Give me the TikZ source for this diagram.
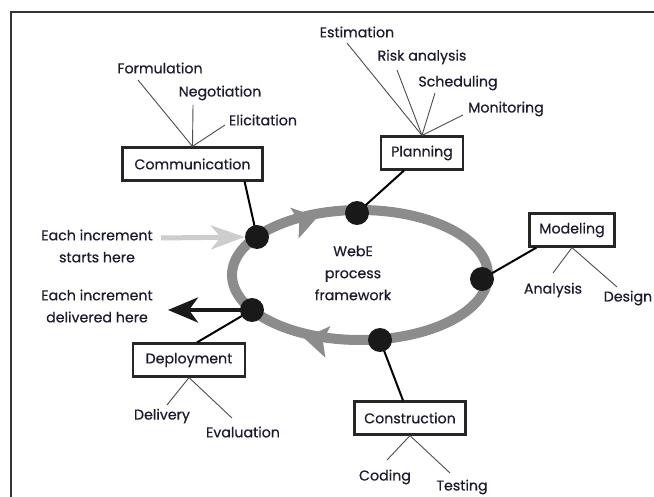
\documentclass[tikz,border=0pt]{standalone}
\usepackage{fontspec}
\setmainfont{Poppins}[FakeBold=0.5]
\usetikzlibrary{arrows.meta}
\definecolor{txt}{HTML}{1C1C30}
\definecolor{ring}{HTML}{8C8C8C}
\definecolor{lgray}{HTML}{CDCDCD}
\begin{document}
\begin{tikzpicture}[x=1pt,y=-1pt,
  every node/.style={font=\fontsize{14.2}{22}\selectfont, text=txt},
  phase/.style={draw=black!85, line width=2.2pt, inner sep=0pt, minimum height=33pt},
  lbl/.style={inner sep=0pt, align=center},
  sub/.style={draw=black!70, line width=0.9pt},
  link/.style={draw=black, line width=2pt},
  dot/.style={circle, fill=black!90, minimum size=24pt, inner sep=0pt},
  frame/.style={draw=black!80, line width=2pt}]
\useasboundingbox (0,0) rectangle (654,497);
% frame
\coordinate (fa) at (654,12);
\coordinate (fb) at (11,12);
\coordinate (fc) at (11,497);
\draw[frame] (fa) -- (fb) -- (fc);
% ring
\draw[ring, line width=10pt] (360,275) ellipse [x radius=128, y radius=65];
\fill[ring, shift={(306,220)}, rotate=15] (12,0) -- (-12,16) -- (-7,0) -- (-12,-16) -- cycle;
\fill[ring, shift={(316,340)}, rotate=171] (12,0) -- (-12,16) -- (-7,0) -- (-12,-16) -- cycle;
\node[lbl] (center) at (353,273) {WebE\\process\\framework};
% phase boxes
\node[phase, minimum width=140pt] (comm) at (192.5,164) {Communication};
\node[phase, minimum width=82pt] (plan) at (422,153) {Planning};
\node[phase, minimum width=85pt] (model) at (572,230) {Modeling};
\node[phase, minimum width=112pt] (deploy) at (189,360) {Deployment};
\node[phase, minimum width=111pt] (constr) at (410,418) {Construction};
% links to dots
\coordinate (d1) at (257,237);
\coordinate (d2) at (357,213);
\coordinate (d3) at (482,279);
\coordinate (d4) at (380,340);
\coordinate (d5) at (252,310);
\draw[link] (d1) -- ([xshift=-19pt]comm.south east);
\draw[link] (d2) -- ([xshift=24pt]plan.south west);
\draw[link] (d3) -- ([xshift=8pt]model.south west);
\draw[link] (d5) -- ([xshift=8pt]deploy.north);
\draw[link] (d4) -- ([xshift=-7pt]constr.north);
% increment arrows
\node[lbl] (start) at (97,246) {Each increment\\starts here};
\node[lbl] (deliv) at (97,306) {Each increment\\delivered here};
\node[dot] (n1) at (d1) {};
\node[dot] (n2) at (d2) {};
\node[dot] (n3) at (d3) {};
\node[dot] (n4) at (d4) {};
\node[dot] (n5) at (d5) {};
\coordinate (sa) at (161,238);
\draw[lgray, line width=5pt, -{Stealth[length=34pt,width=24pt,inset=10pt]}] (sa) -- (n1.west);
\coordinate (da) at (168,310);
\draw[black!90, line width=4.5pt, -{Stealth[length=30pt,width=25pt,inset=9pt]}] (n5.center) -- (da);
% communication sub-labels
\node[lbl] (form) at (160,68) {Formulation};
\node[lbl] (nego) at (220,93) {Negotiation};
\node[lbl] (elic) at (263,120) {Elicitation};
\coordinate (cf) at (138,80);
\coordinate (cn) at (193,105);
\coordinate (ce) at (225,125);
\draw[sub] (cf) -- (comm.north);
\draw[sub] (cn) -- (comm.north);
\draw[sub] (ce) -- (comm.north);
% planning sub-labels
\node[lbl] (est) at (357,32) {Estimation};
\node[lbl] (risk) at (422,57) {Risk analysis};
\node[lbl] (sched) at (458,83) {Scheduling};
\node[lbl] (monit) at (506,109) {Monitoring};
\coordinate (pe) at (347,43);
\coordinate (pr) at (397,70);
\coordinate (ps) at (435,93);
\coordinate (pm) at (463,115);
\draw[sub] (pe) -- (plan.north);
\draw[sub] (pr) -- (plan.north);
\draw[sub] (ps) -- (plan.north);
\draw[sub] (pm) -- (plan.north);
% modeling sub-labels
\node[lbl] (anal) at (553,290) {Analysis};
\node[lbl] (design) at (628,298) {Design};
\coordinate (ma) at (553,273);
\coordinate (md) at (617,287);
\draw[sub] (ma) -- (model.south);
\draw[sub] (md) -- (model.south);
% deployment sub-labels
\node[lbl] (delivery) at (162,416) {Delivery};
\node[lbl] (evalu) at (243,432) {Evaluation};
\coordinate (yd) at (167,405);
\coordinate (ye) at (232,418);
\draw[sub] (yd) -- (deploy.south);
\draw[sub] (ye) -- (deploy.south);
% construction sub-labels
\node[lbl] (coding) at (385,477) {Coding};
\node[lbl] (testing) at (462,487) {Testing};
\coordinate (kc) at (387,460);
\coordinate (kt) at (450,473);
\draw[sub] (kc) -- (constr.south);
\draw[sub] (kt) -- (constr.south);
\end{tikzpicture}
\end{document}
